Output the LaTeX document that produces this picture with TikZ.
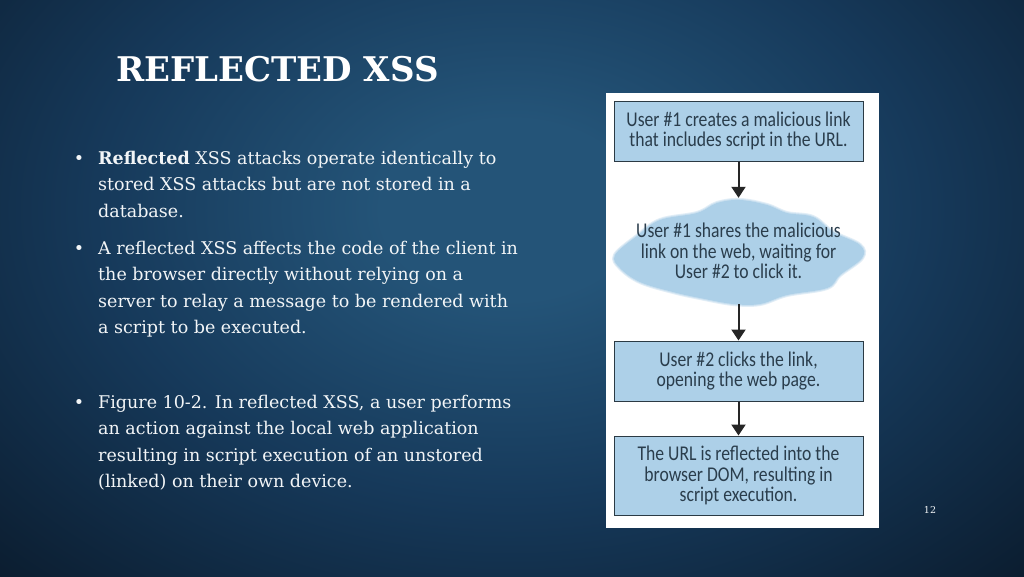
\documentclass[tikz,border=0pt]{standalone}
\usepackage{fontspec}
\usetikzlibrary{arrows.meta}
\setmainfont{DejaVu Serif}
\newfontfamily\figfont[FakeStretch=0.84]{Carlito}
\definecolor{bgdark}{HTML}{0A1A2B}
\definecolor{bgmid}{HTML}{16395A}
\definecolor{bglight}{HTML}{245478}
\definecolor{boxblue}{HTML}{ADD0E8}
\definecolor{boxline}{HTML}{2B3A44}
\definecolor{figtext}{HTML}{2A3D4C}
\definecolor{txt}{HTML}{F2F5F7}
\pgfdeclareradialshading{slidebg}{\pgfpoint{0bp}{0bp}}{
  color(0bp)=(bglight);color(4bp)=(bglight);color(13bp)=(bgmid);color(24bp)=(bgdark);color(50bp)=(bgdark)}
\tikzset{
  x=1pt,y=-1pt,
  body/.style={anchor=north west,align=left,text=txt,font=\fontsize{17.5}{26.3}\selectfont,inner sep=0pt},
  flowbox/.style={fill=boxblue,draw=boxline,line width=1pt,minimum width=249pt,align=center,text=figtext,font=\figfont\fontsize{21}{20.5}\selectfont,inner sep=0pt},
  flowarrow/.style={draw=black!85,line width=2pt,-{Triangle[length=11pt,width=14pt]}},
}
\newcommand{\blt}{\llap{•\hspace{14pt}}}
\begin{document}
\begin{tikzpicture}
\useasboundingbox (0,0) rectangle (1024,576);
\fill[bgdark] (0,0) rectangle (1024,576);
\begin{scope}
\clip (0,0) rectangle (1024,576);
\shade[shading=slidebg] (-290,-350) rectangle (1310,770);
\end{scope}
\node[anchor=base west,inner sep=0pt,text=white,font=\fontsize{34}{34}\selectfont\bfseries] (title) at (116,81) {REFLECTED XSS};
\node[body] (p1) at (98,151) {\blt\textbf{Reflected} XSS attacks operate identically to\\stored XSS attacks but are not stored in a\\database.};
\node[body] (p2) at (98,241) {\blt A reflected XSS affects the code of the client in\\the browser directly without relying on a\\server to relay a message to be rendered with\\a script to be executed.};
\node[body] (p3) at (98,395) {\blt Figure 10-2. In reflected XSS, a user performs\\an action against the local web application\\resulting in script execution of an unstored\\(linked) on their own device.};
\fill[white] (606,93) rectangle (879,528);
\node[flowbox,minimum height=60pt] (b1) at (738.5,131) {User \#1 creates a malicious link\\that includes script in the URL.};
\def\cloudpts{(615,255) (637,236) (660,220) (697,213) (717,203) (740,200) (767,205) (787,213) (813,217) (833,232) (860,245) (862,258) (840,275) (827,288) (787,295) (760,304) (733,304) (700,298) (673,292) (640,282) (620,268)}
\draw[boxblue!35,line width=4pt,line join=round] plot[smooth cycle,tension=0.6] coordinates {\cloudpts};
\draw[boxblue!65,line width=2pt,line join=round] plot[smooth cycle,tension=0.6] coordinates {\cloudpts};
\fill[boxblue] plot[smooth cycle,tension=0.6] coordinates {\cloudpts};
\node[minimum width=240pt,minimum height=106pt,inner sep=0pt,align=center,text=figtext,font=\figfont\fontsize{21}{20.5}\selectfont] (b2) at (738.5,251) {User \#1 shares the malicious\\link on the web, waiting for\\User \#2 to click it.};
\node[flowbox,minimum height=60pt] (b3) at (738.5,371) {User \#2 clicks the link,\\opening the web page.};
\node[flowbox,minimum height=79pt] (b4) at (738.5,475.5) {The URL is reflected into the\\browser DOM, resulting in\\script execution.};
\draw[flowarrow] (b1.south) -- (b2.north);
\draw[flowarrow] (b2.south) -- (b3.north);
\draw[flowarrow] (b3.south) -- (b4.north);
\node[text=txt,font=\fontsize{9.5}{10}\selectfont,inner sep=0pt] (num) at (930,510) {12};
\end{tikzpicture}
\end{document}
